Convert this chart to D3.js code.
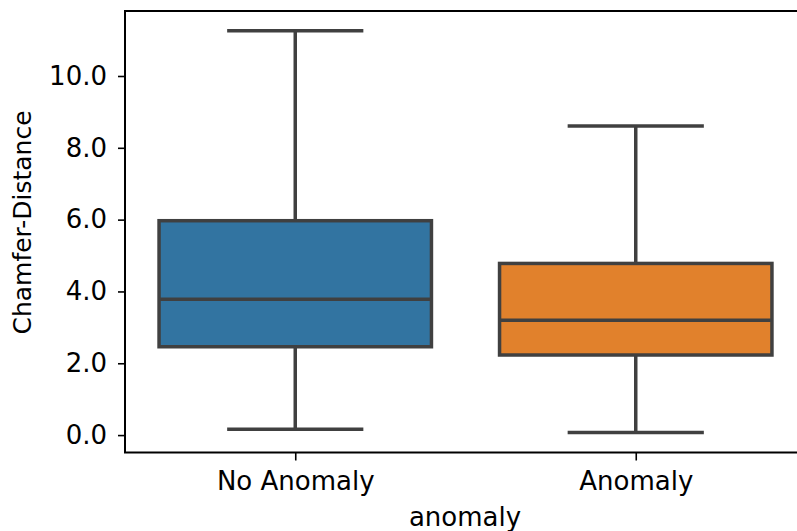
<!DOCTYPE html>
<html>
<head>
<meta charset="utf-8">
<script src="https://cdn.jsdelivr.net/npm/d3@7"></script>
<style>
  html, body { margin: 0; padding: 0; background: #fff; }
  svg { display: block; }
  text { font-family: "DejaVu Sans", sans-serif; fill: #000; }
</style>
</head>
<body>
<svg id="chart" width="797" height="531"></svg>
<script>
const categories = ["No Anomaly", "Anomaly"];
const whiskerLow  = [0.16, 0.075];
const q1          = [2.46, 2.23];
const median      = [3.78, 3.20];
const q3          = [5.97, 4.78];
const whiskerHigh = [11.26, 8.61];
const colors      = ["#3274a1", "#e1812c"];
const yTicks      = [0, 2, 4, 6, 8, 10];

const svg = d3.select("#chart");
const plotLeft = 125, plotTop = 11, plotBottom = 452.5;
const plotRight = 806;

const x = d3.scaleLinear().domain([-0.5, 1.5]).range([plotLeft, plotRight]);
const y = d3.scaleLinear().domain([-0.485, 11.81]).range([plotBottom, plotTop]);

const fontSize = 26;
const lineColor = "#404040";
const boxW = 0.8, capW = 0.4;

const data = categories.map((c, i) => ({
  c, i, lo: whiskerLow[i], q1: q1[i], med: median[i], q3: q3[i], hi: whiskerHigh[i], color: colors[i]
}));

const g = svg.append("g");
data.forEach(d => {
  const cx = x(d.i);
  const bw = x(boxW / 2) - x(0);
  const cw = x(capW / 2) - x(0);
  g.append("line").attr("x1", cx).attr("x2", cx).attr("y1", y(d.q3)).attr("y2", y(d.hi))
    .attr("stroke", lineColor).attr("stroke-width", 3.5);
  g.append("line").attr("x1", cx).attr("x2", cx).attr("y1", y(d.q1)).attr("y2", y(d.lo))
    .attr("stroke", lineColor).attr("stroke-width", 3.5);
  [d.hi, d.lo].forEach(v => {
    g.append("line").attr("x1", cx - cw).attr("x2", cx + cw).attr("y1", y(v)).attr("y2", y(v))
      .attr("stroke", lineColor).attr("stroke-width", 3.5);
  });
  g.append("rect").attr("x", cx - bw).attr("width", 2 * bw)
    .attr("y", y(d.q3)).attr("height", y(d.q1) - y(d.q3))
    .attr("fill", d.color).attr("stroke", lineColor).attr("stroke-width", 3.5);
  g.append("line").attr("x1", cx - bw).attr("x2", cx + bw).attr("y1", y(d.med)).attr("y2", y(d.med))
    .attr("stroke", lineColor).attr("stroke-width", 3.5);
});

const yAxis = svg.append("g").attr("transform", `translate(${plotLeft},0)`)
  .call(d3.axisLeft(y).tickValues(yTicks).tickFormat(d3.format(".1f")).tickSize(7).tickPadding(11));
yAxis.select(".domain").remove();
yAxis.selectAll(".tick line").attr("stroke", "#000").attr("stroke-width", 1.6);
yAxis.selectAll(".tick text").style("font-size", fontSize + "px").attr("fill", "#000")
  .style("font-family", "DejaVu Sans, sans-serif");

const xAxis = svg.append("g").attr("transform", `translate(0,${plotBottom})`)
  .call(d3.axisBottom(x).tickValues([0, 1]).tickFormat(i => categories[i]).tickSize(8).tickPadding(11));
xAxis.select(".domain").remove();
xAxis.selectAll(".tick line").attr("stroke", "#000").attr("stroke-width", 1.6);
xAxis.selectAll(".tick text").style("font-size", fontSize + "px").attr("fill", "#000")
  .style("font-family", "DejaVu Sans, sans-serif");

svg.append("line").attr("x1", plotLeft).attr("x2", plotLeft).attr("y1", plotTop).attr("y2", plotBottom)
  .attr("stroke", "#000").attr("stroke-width", 2);
svg.append("line").attr("x1", plotLeft - 1).attr("x2", 800).attr("y1", plotTop).attr("y2", plotTop)
  .attr("stroke", "#000").attr("stroke-width", 2);
svg.append("line").attr("x1", plotLeft - 1).attr("x2", 800).attr("y1", plotBottom).attr("y2", plotBottom)
  .attr("stroke", "#000").attr("stroke-width", 2);

svg.append("text").attr("x", 465).attr("y", 526).attr("text-anchor", "middle")
  .style("font-size", fontSize + "px").text("anomaly");
svg.append("text").attr("transform", `translate(31,${(113 + 332) / 2}) rotate(-90)`)
  .attr("text-anchor", "middle").style("font-size", "25px").text("Chamfer-Distance");
</script>
</body>
</html>
